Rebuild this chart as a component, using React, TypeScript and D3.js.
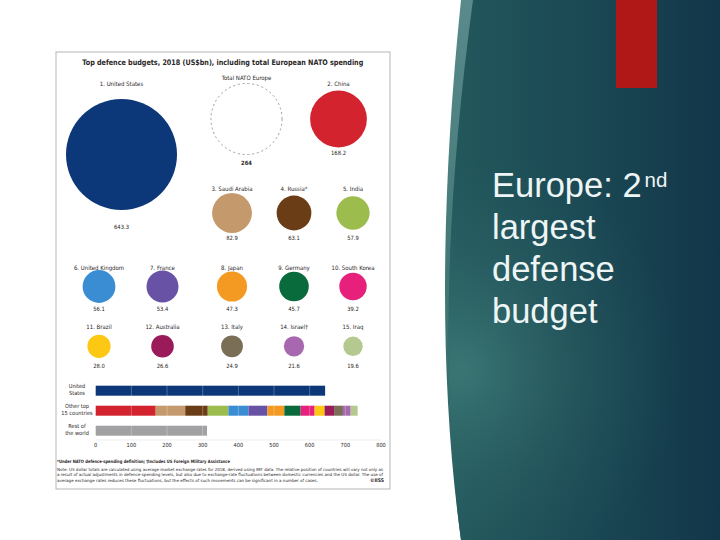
import React from "react";
import * as d3 from "d3";

// ---------- data ----------
const countries = [
  "United States", "China", "Saudi Arabia", "Russia*", "India",
  "United Kingdom", "France", "Japan", "Germany", "South Korea",
  "Brazil", "Australia", "Italy", "Israel†", "Iraq",
];
const budgets = [643.3, 168.2, 82.9, 63.1, 57.9, 56.1, 53.4, 47.3, 45.7, 39.2, 28.0, 26.6, 24.9, 21.6, 19.6];
const natoEuropeLabel = "Total NATO Europe";
const natoEurope = 264;
const barCategories = ["United States", "Other top 15 countries", "Rest of the world"];
const barLabels = [["United", "States"], ["Other top", "15 countries"], ["Rest of", "the world"]];
const restOfWorld = 312;
const xTicks = [0, 100, 200, 300, 400, 500, 600, 700, 800];

const titleText = "Top defence budgets, 2018 (US$bn), including total European NATO spending";
const footStar = "*Under NATO defence-spending definition; †Includes US Foreign Military Assistance";
const noteLines = [
  "Note: US dollar totals are calculated using average market exchange rates for 2018, derived using IMF data. The relative position of countries will vary not only as",
  "a result of actual adjustments in defence-spending levels, but also due to exchange-rate fluctuations between domestic currencies and the US dollar. The use of",
  "average exchange rates reduces these fluctuations, but the effects of such movements can be significant in a number of cases.",
];
const slideLines = ["largest", "defense", "budget"];

// ---------- styles ----------
const colors = [
  "#0c3778", "#d2232f", "#c49a6c", "#6a3d16", "#9cbd4d",
  "#3a8dd3", "#6752a6", "#f49a22", "#096b3b", "#e6207b",
  "#fcc814", "#9b1b5a", "#7a6e57", "#a868b0", "#b4c98f",
];
const restColor = "#a1a1a3";
const chartFont = "'Liberation Sans Narrow','DejaVu Sans Condensed','Arial Narrow',sans-serif";
const slideFont = "'Liberation Sans',Arial,sans-serif";
const ink = "#2a2627";

// layout
const colX = [99, 162.5, 232, 294, 353];
const rows = [
  { cy: 213, label: 191, value: 240 },
  { cy: 286.5, label: 270, value: 311 },
  { cy: 346.3, label: 329, value: 368 },
];

function place(i: number) {
  if (i === 0) return { cx: 121.5, cy: 154.5, label: 86, value: 229 };
  if (i === 1) return { cx: 338.5, cy: 119, label: 86, value: 155 };
  if (i <= 4) return { cx: colX[i], cy: rows[0].cy, label: rows[0].label, value: rows[0].value };
  if (i <= 9) return { cx: colX[i - 5], cy: rows[1].cy, label: rows[1].label, value: rows[1].value };
  return { cx: colX[i - 10], cy: rows[2].cy, label: rows[2].label, value: rows[2].value };
}

export default function App() {
  const r = d3.scaleSqrt().domain([0, budgets[0]]).range([0, 55.5]);
  const x = d3.scaleLinear().domain([0, 800]).range([95.7, 381]);
  const y = d3.scaleBand().domain(barCategories).range([380.7, 440.7]).paddingInner(0.5).paddingOuter(0.25);
  const fmt = (v: number) => v.toFixed(1);

  // stacked segments for "Other top 15"
  const others = budgets.slice(1);
  const starts = d3.cumsum([0, ...others]);

  const darkEdge = "M473,0 Q431,310 461,540 L720,540 L720,0 Z";
  const stripeEdge = "M461,0 Q429,310 461,540 L720,540 L720,0 Z";

  return (
    <svg width={720} height={540} style={{ position: "absolute", left: 0, top: 0 }} xmlns="http://www.w3.org/2000/svg">
      <defs>
        <linearGradient id="bgLin" gradientUnits="userSpaceOnUse" x1={450} y1={0} x2={720} y2={0}>
          <stop offset="0" stopColor="#22585c" />
          <stop offset="0.6" stopColor="#194552" />
          <stop offset="1" stopColor="#123649" />
        </linearGradient>
        <radialGradient id="bgRad" gradientUnits="userSpaceOnUse" cx={462} cy={370} r={220}>
          <stop offset="0" stopColor="#4b8a84" stopOpacity={0.6} />
          <stop offset="0.5" stopColor="#3b7573" stopOpacity={0.28} />
          <stop offset="1" stopColor="#2b6264" stopOpacity={0} />
        </radialGradient>
        <linearGradient id="stripe" x1="0" y1="0" x2="0" y2="1">
          <stop offset="0" stopColor="#5a8a8b" />
          <stop offset="0.6" stopColor="#3f7474" />
          <stop offset="1" stopColor="#255a5c" />
        </linearGradient>
      </defs>

      <rect x={0} y={0} width={720} height={540} fill="#ffffff" />

      {/* right panel */}
      <path d={stripeEdge} fill="url(#stripe)" />
      <path d={darkEdge} fill="url(#bgLin)" />
      <path d={darkEdge} fill="url(#bgRad)" />
      <rect x={616} y={0} width={41} height={88} fill="#b01818" />

      <g fill="#eef5f5" fontFamily={slideFont} fontSize={34.5}>
        <text x={492} y={197}>
          Europe: 2<tspan fontSize={20.5} dx={3} dy={-10}>nd</tspan>
        </text>
        {slideLines.map((t, i) => (
          <text key={t} x={492} y={238.5 + i * 42}>{t}</text>
        ))}
      </g>

      {/* chart image */}
      <rect x={56} y={52} width={334} height={437} fill="#ffffff" stroke="#b5b5b5" strokeWidth={1} />
      <g fontFamily={chartFont} fill={ink}>
        <text x={222.8} y={64.5} textAnchor="middle" fontWeight="bold" fontSize={7.6} textLength={281} lengthAdjust="spacingAndGlyphs">
          {titleText}
        </text>

        {/* NATO Europe */}
        <circle cx={246.5} cy={119} r={r(natoEurope)} fill="none" stroke="#8a8a8a" strokeWidth={0.8} strokeDasharray="2.2 2.6" />
        <text x={246.5} y={80} textAnchor="middle" fontSize={6}>{natoEuropeLabel}</text>
        <text x={246.5} y={164.5} textAnchor="middle" fontSize={5.8} fontWeight="bold">{String(natoEurope)}</text>

        {budgets.map((v, i) => {
          const p = place(i);
          return (
            <g key={countries[i]}>
              <circle cx={p.cx} cy={p.cy} r={r(v)} fill={colors[i]} />
              <text x={p.cx} y={p.label} textAnchor="middle" fontSize={6}>{`${i + 1}. ${countries[i]}`}</text>
              <text x={p.cx} y={p.value} textAnchor="middle" fontSize={5.8}>{fmt(v)}</text>
            </g>
          );
        })}

        {/* bar chart */}
        <line x1={x(0)} x2={x(800)} y1={440} y2={440} stroke="#e2e2e2" strokeWidth={0.6} />
        <rect x={x(0)} y={y(barCategories[0])} width={x(budgets[0]) - x(0)} height={y.bandwidth()} fill={colors[0]} />
        {others.map((v, i) => (
          <rect key={i} x={x(starts[i])} y={y(barCategories[1])} width={x(starts[i] + v) - x(starts[i])} height={y.bandwidth()} fill={colors[i + 1]} />
        ))}
        <rect x={x(0)} y={y(barCategories[2])} width={x(restOfWorld) - x(0)} height={y.bandwidth()} fill={restColor} />
        {xTicks.slice(1, -1).map((t) => (
          <line key={t} x1={x(t)} x2={x(t)} y1={383} y2={438} stroke="#ffffff" strokeOpacity={0.45} strokeWidth={0.6} />
        ))}
        {barLabels.map((lines, i) => (
          <text key={i} x={77} textAnchor="middle" fontSize={5.6}>
            {lines.map((l, j) => (
              <tspan key={j} x={77} y={(y(barCategories[i]) as number) + 2.5 + j * 7.2}>{l}</tspan>
            ))}
          </text>
        ))}
        {xTicks.map((t) => (
          <text key={t} x={x(t)} y={447} textAnchor="middle" fontSize={5.6}>{t}</text>
        ))}

        {/* footnotes */}
        <text x={57} y={462.5} fontSize={4.5} fontWeight="bold" textLength={173} lengthAdjust="spacingAndGlyphs">{footStar}</text>
        {noteLines.map((l, i) => (
          <text key={i} x={57} y={470.8 + i * 5.6} fontSize={4.2} textLength={i < 2 ? 326 : 261} lengthAdjust="spacingAndGlyphs">{l}</text>
        ))}
        <text x={384} y={482.3} textAnchor="end" fontSize={5} fontWeight="bold">©IISS</text>
      </g>
    </svg>
  );
}
